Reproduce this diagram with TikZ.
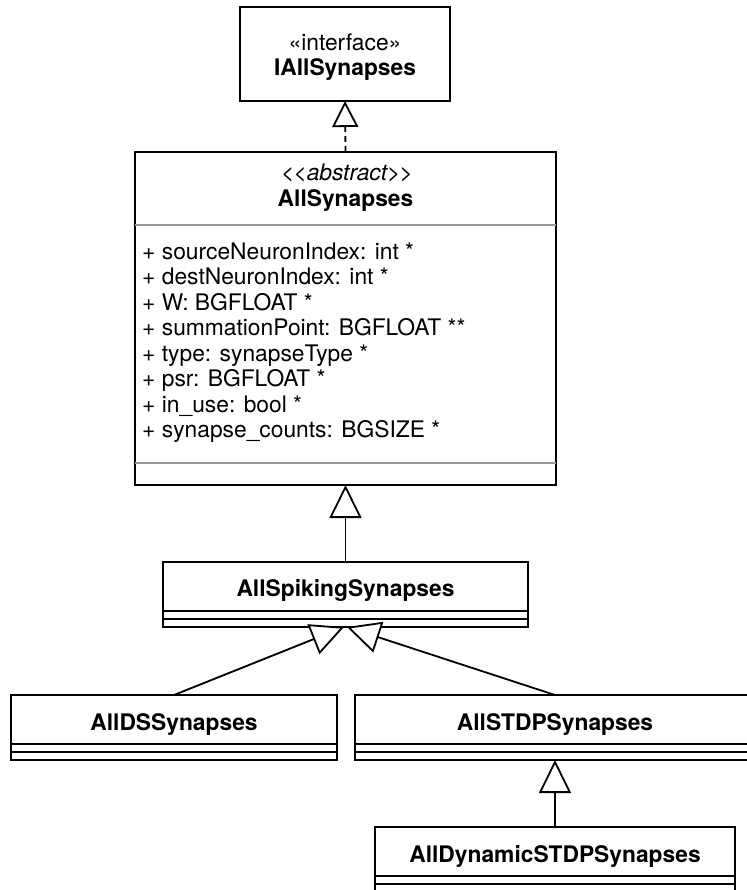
\documentclass[tikz,border=0pt]{standalone}
\usepackage{fontspec}
\setmainfont{TeX Gyre Heros}
\usetikzlibrary{arrows.meta,calc}

\begin{document}
\begin{tikzpicture}[x=1pt,y=-1pt,
  classbox/.style={draw=black,line width=2pt,fill=white,inner sep=0pt,outer sep=0pt,rectangle,anchor=north west},
  txt/.style={inner sep=0pt,anchor=base,font=\fontsize{22.8}{27}\selectfont},
  ttl/.style={txt,font=\fontsize{22.8}{27}\selectfont\bfseries},
  attr/.style={txt,anchor=base west},
  sepgray/.style={draw=black!40,line width=2pt},
  sepblack/.style={draw=black,line width=2pt},
  gen/.style={line width=1.8pt,-{Triangle[length=33pt,width=32pt,fill=white]}},
  realize/.style={line width=1.8pt,dash pattern=on 6pt off 4pt,-{Triangle[length=26pt,width=26pt,fill=white]}},
]
\useasboundingbox (0,0) rectangle (746,890);

% class boxes
\node[classbox,minimum width=210pt,minimum height=94pt] (iface) at (240,7) {};
\node[classbox,minimum width=421pt,minimum height=333pt] (abs) at (135,152) {};
\node[classbox,minimum width=365pt,minimum height=65pt] (spk) at (163,562) {};
\node[classbox,minimum width=326pt,minimum height=65pt] (ds) at (11,695) {};
\node[classbox,minimum width=400pt,minimum height=65pt] (stdp) at (355,695) {};
\node[classbox,minimum width=360pt,minimum height=65pt] (dyn) at (375,827) {};

% compartment separators
\draw[sepgray] ([yshift=-73pt]abs.north west) -- ([yshift=-73pt]abs.north east);
\draw[sepgray] ([yshift=22pt]abs.south west) -- ([yshift=22pt]abs.south east);
\foreach \b in {spk,ds,stdp,dyn}{
  \draw[sepblack] ([yshift=-49pt]\b.north west) -- ([yshift=-49pt]\b.north east);
  \draw[sepblack] ([yshift=8pt]\b.south west) -- ([yshift=8pt]\b.south east);
}

% class titles
\node[txt] (ifst) at (345,51) {«interface»};
\node[ttl] (ifnm) at (345,76) {IAllSynapses};
\node[txt,font=\fontsize{22.8}{27}\selectfont\itshape] (absst) at (347,181)
  {\textless\kern-1pt\textless abstract\textgreater\kern-1pt\textgreater};
\node[ttl] (absnm) at (345.5,207) {AllSynapses};
\node[ttl] (spknm) at (345.5,596) {AllSpikingSynapses};
\node[ttl] (dsnm) at (174,730) {AllDSSynapses};
\node[ttl] (stdpnm) at (555,730) {AllSTDPSynapses};
\node[ttl] (dynnm) at (555,862) {AllDynamicSTDPSynapses};

% attributes
\node[attr] (a1) at (142,259.0) {+ sourceNeuronIndex: int *};
\node[attr] (a2) at (142,284.5) {+ destNeuronIndex: int *};
\node[attr] (a3) at (142,310.0) {+ W: BGFLOAT *};
\node[attr] (a4) at (142,335.5) {+ summationPoint: BGFLOAT **};
\node[attr] (a5) at (142,361.0) {+ type: synapseType *};
\node[attr] (a6) at (142,386.5) {+ psr: BGFLOAT *};
\node[attr] (a7) at (142,412.0) {+ in\_use: bool *};
\node[attr] (a8) at (142,437.5) {+ synapse\_counts: BGSIZE *};

% relations
\draw[realize] (abs.north) -- (iface.south);
\draw[gen] (spk.north) -- (abs.south);
\draw[gen] (ds.north) -- ($(spk.south)+(-1.5,0)$);
\draw[gen] (stdp.north) -- ($(spk.south)+(1.5,0)$);
\draw[gen] (dyn.north) -- (stdp.south);
\end{tikzpicture}
\end{document}
